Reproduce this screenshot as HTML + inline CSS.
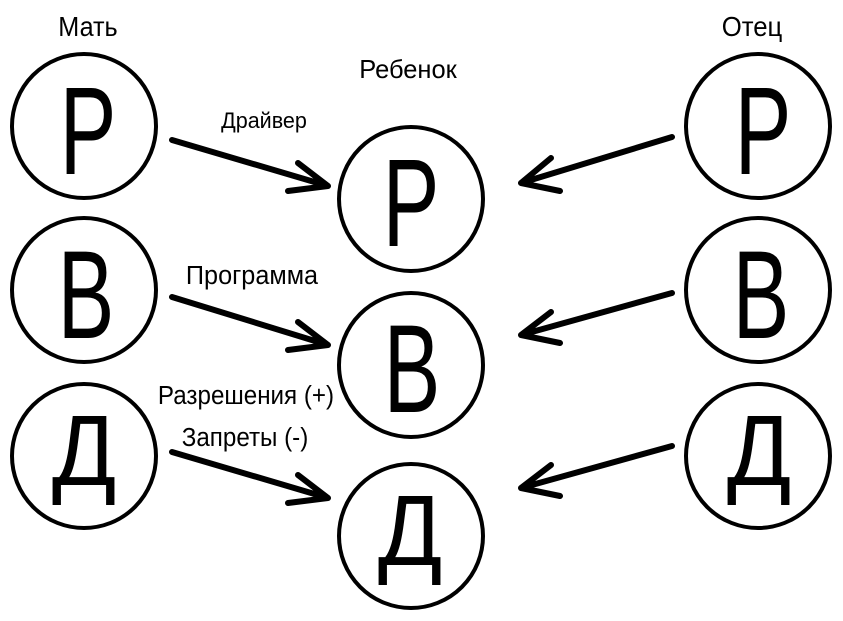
<!DOCTYPE html>
<html><head><meta charset="utf-8"><style>
html,body{margin:0;padding:0;background:#fff;}
svg{display:block;}
text{font-family:"Liberation Sans","DejaVu Sans",sans-serif;fill:#000;}
</style></head><body>
<svg width="843" height="621" viewBox="0 0 843 621" xmlns="http://www.w3.org/2000/svg">
<g fill="none" stroke="#000" stroke-width="4">
<circle cx="84" cy="126" r="72"/>
<circle cx="84" cy="290" r="72"/>
<circle cx="84" cy="456" r="72"/>
<circle cx="411" cy="199" r="72"/>
<circle cx="411" cy="365" r="72"/>
<circle cx="411" cy="536" r="72"/>
<circle cx="758" cy="126" r="72"/>
<circle cx="758" cy="290" r="72"/>
<circle cx="758" cy="456" r="72"/>
</g>
<g fill="none" stroke="#000" stroke-width="6" stroke-linecap="round" stroke-linejoin="round">
<path d="M172 140 L328 186 M298 163 L328 186 L288 191"/>
<path d="M172 297 L328 345 M298 322 L328 345 L288 350"/>
<path d="M172 452 L328 498 M298 475 L328 498 L288 503"/>
<path d="M672 137 L521 183 M551 158 L521 183 L560 191"/>
<path d="M672 293 L521 335 M551 312 L521 335 L560 343"/>
<path d="M672 446 L521 488 M551 465 L521 488 L560 496"/>
</g>
<g font-size="125" text-anchor="middle">
<text transform="translate(88,174) scale(0.68,1)">Р</text>
<text transform="translate(86,338) scale(0.68,1)">В</text>
<text transform="translate(411,246) scale(0.68,1)">Р</text>
<text transform="translate(412,412) scale(0.68,1)">В</text>
<text transform="translate(763,174) scale(0.68,1)">Р</text>
<text transform="translate(761,338) scale(0.68,1)">В</text>
</g>
<g font-size="100" text-anchor="middle">
<text transform="translate(84,485) scale(0.95,1)">Д</text>
<text transform="translate(410,565) scale(0.95,1)">Д</text>
<text transform="translate(759,485) scale(0.95,1)">Д</text>
</g>
<g text-anchor="middle">
<text transform="translate(88,36) scale(0.9,1)" font-size="28">Мать</text>
<text transform="translate(408,78) scale(0.98,1)" font-size="26">Ребенок</text>
<text transform="translate(752,36) scale(0.92,1)" font-size="28">Отец</text>
<text transform="translate(264,128) scale(0.98,1)" font-size="22">Драйвер</text>
<text transform="translate(252,284) scale(0.97,1)" font-size="26">Программа</text>
<text transform="translate(246,404) scale(0.93,1)" font-size="26">Разрешения (+)</text>
<text transform="translate(245,446) scale(0.93,1)" font-size="26">Запреты (-)</text>
</g>
</svg>
</body></html>
